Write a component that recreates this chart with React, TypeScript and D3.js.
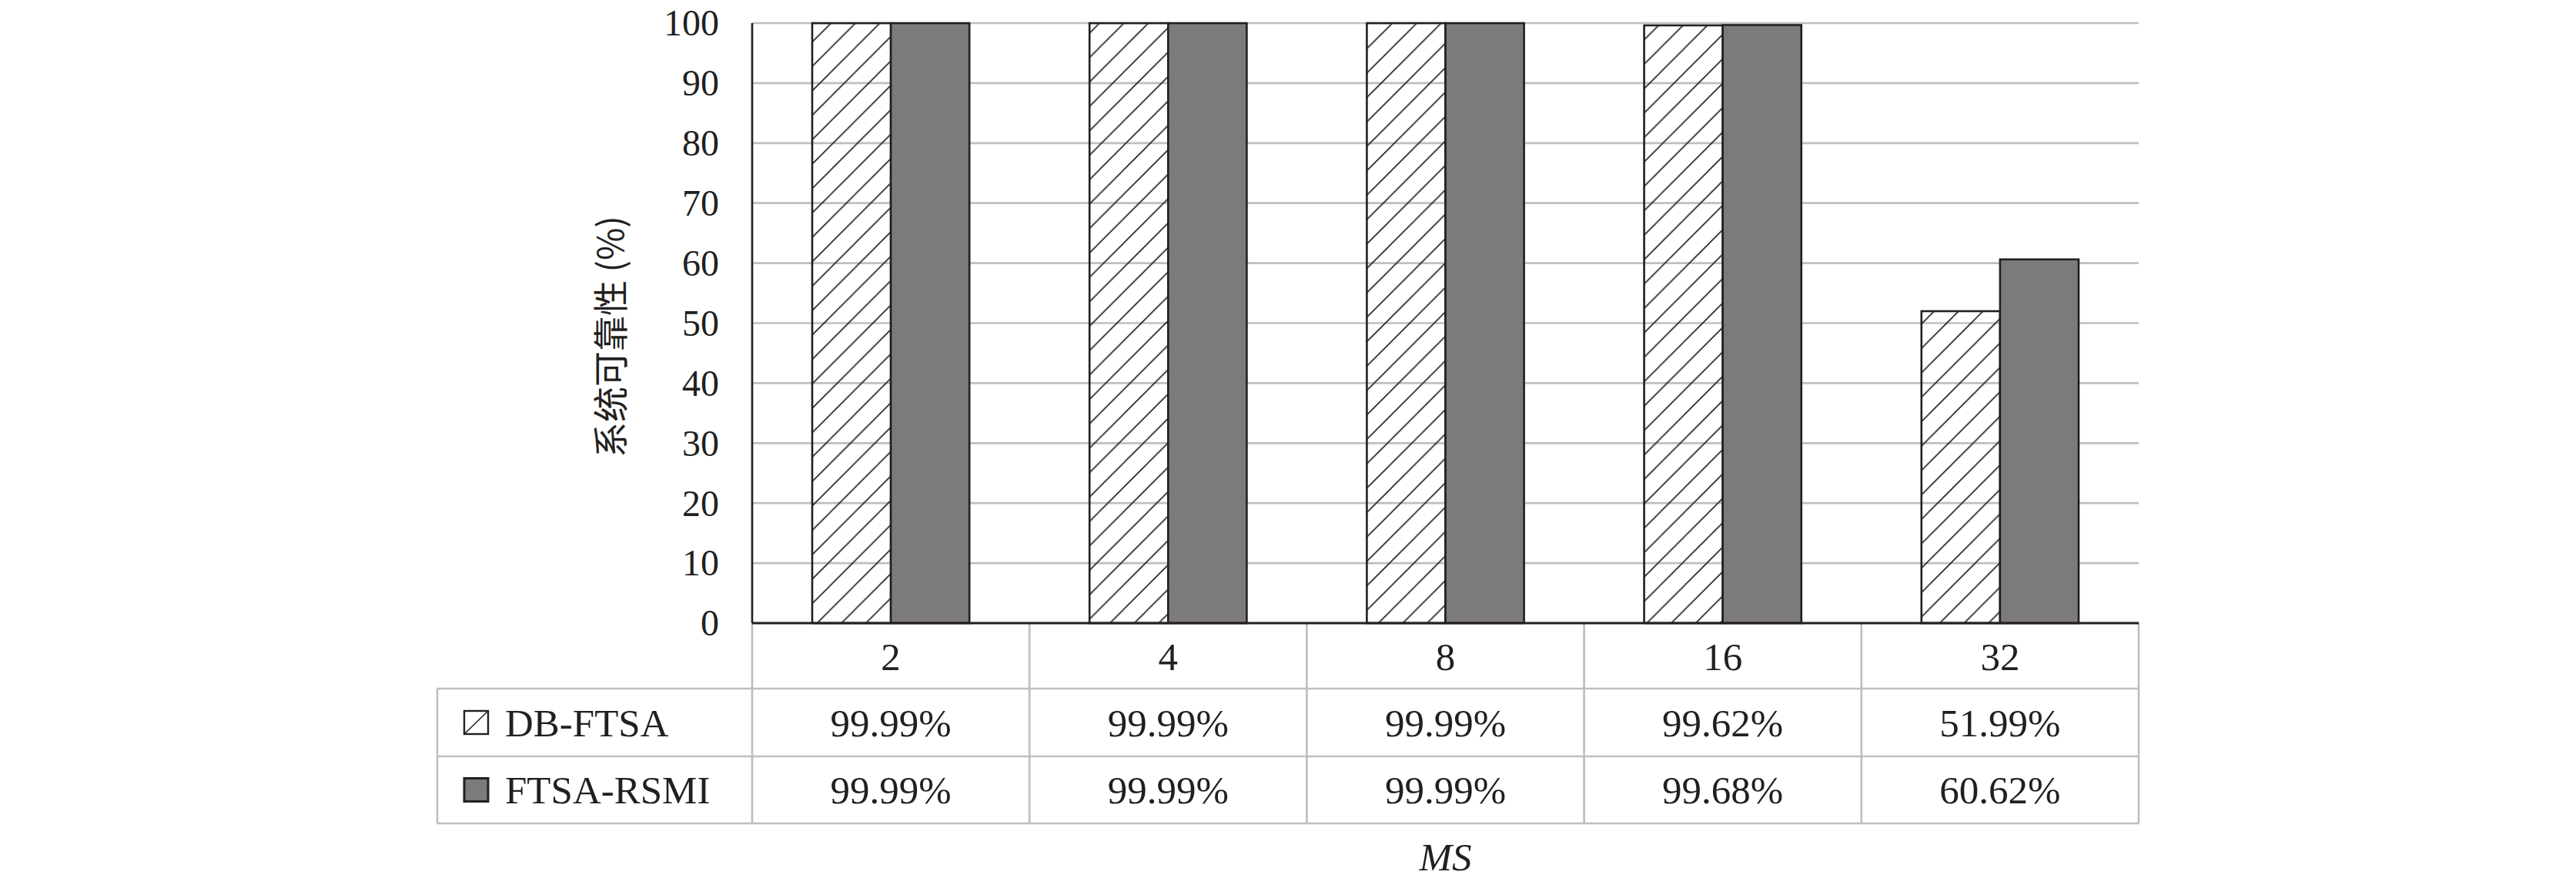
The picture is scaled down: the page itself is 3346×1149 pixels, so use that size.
import React, { useEffect } from 'react';
import * as d3 from 'd3';

const categories = ['2', '4', '8', '16', '32'];
const seriesNames = ['DB-FTSA', 'FTSA-RSMI'];
const dbFtsa = [99.99, 99.99, 99.99, 99.62, 51.99];
const ftsaRsmi = [99.99, 99.99, 99.99, 99.68, 60.62];
const yTicks = [0, 10, 20, 30, 40, 50, 60, 70, 80, 90, 100];
const yLabel = '系统可靠性 (%)';
const xLabel = 'MS';

const W = 3346;
const H = 1149;
const plot = { left: 977, right: 2778, top: 30, bottom: 809 };
const rowH = [809, 894, 982, 1069];
const tableLeft = 568;
const ink = '#231f20';
const grid = '#bfbfbf';
const solid = '#7c7a7b';
const serif = '"Liberation Serif", "Times New Roman", serif';

export default function App() {
  useEffect(() => {
    document.body.style.margin = '0';
  }, []);

  const x = d3.scaleBand<string>().domain(categories).range([plot.left, plot.right]);
  const inner = d3.scaleBand<string>().domain(seriesNames).range([78, x.bandwidth() - 78]);
  const y = d3.scaleLinear().domain([0, 100]).range([plot.bottom, plot.top]);

  const series = [dbFtsa, ftsaRsmi];
  const fmt = (v: number) => v.toFixed(2) + '%';

  return (
    <svg width={W} height={H} style={{ display: 'block', background: '#fff' }}>
      <defs>
        <pattern id="hatch" patternUnits="userSpaceOnUse" width={31.7} height={31.7}>
          <path
            d="M-2,2 l4,-4 M0,31.7 l31.7,-31.7 M29.7,33.7 l4,-4"
            stroke={ink}
            strokeWidth={1.6}
          />
        </pattern>
      </defs>

      {/* gridlines */}
      {yTicks.filter((t) => t > 0).map((t) => (
        <line key={t} x1={plot.left} x2={plot.right} y1={y(t)} y2={y(t)} stroke={grid} strokeWidth={2.7} />
      ))}

      {/* y tick labels */}
      {yTicks.map((t) => (
        <text
          key={t}
          x={934}
          y={y(t)}
          dy="0.34em"
          textAnchor="end"
          fontFamily={serif}
          fontSize={48}
          fill={ink}
        >
          {t}
        </text>
      ))}

      {/* y label */}
      <text
        transform="translate(810,437) rotate(-90)"
        textAnchor="middle"
        fontFamily={'"Noto Sans CJK SC", ' + serif}
        fontSize={46}
        fill={ink}
      >
        {yLabel}
      </text>

      {/* bars */}
      {categories.map((c, i) =>
        seriesNames.map((s, j) => {
          const v = series[j][i];
          const bx = (x(c) as number) + (inner(s) as number);
          return (
            <rect
              key={c + s}
              x={bx}
              y={y(v)}
              width={inner.bandwidth()}
              height={y(0) - y(v)}
              fill={j === 0 ? 'url(#hatch)' : solid}
              stroke={ink}
              strokeWidth={2.6}
            />
          );
        })
      )}

      {/* left axis line */}
      <line x1={plot.left} x2={plot.left} y1={plot.top} y2={plot.bottom} stroke={ink} strokeWidth={2.6} />

      {/* data table */}
      <g stroke={grid} strokeWidth={2.7}>
        <line x1={tableLeft} x2={plot.right} y1={rowH[1]} y2={rowH[1]} />
        <line x1={tableLeft} x2={plot.right} y1={rowH[2]} y2={rowH[2]} />
        <line x1={tableLeft} x2={plot.right} y1={rowH[3]} y2={rowH[3]} />
        <line x1={tableLeft} x2={tableLeft} y1={rowH[1]} y2={rowH[3]} />
        {categories.map((c) => (
          <line key={c} x1={x(c)} x2={x(c)} y1={rowH[0]} y2={rowH[3]} />
        ))}
        <line x1={plot.right} x2={plot.right} y1={rowH[0]} y2={rowH[3]} />
      </g>

      {/* x axis line */}
      <line x1={plot.left} x2={plot.right} y1={plot.bottom} y2={plot.bottom} stroke={ink} strokeWidth={3.2} />

      {categories.map((c) => (
        <text
          key={c}
          x={(x(c) as number) + x.bandwidth() / 2}
          y={(rowH[0] + rowH[1]) / 2}
          dy="0.36em"
          textAnchor="middle"
          fontFamily={serif}
          fontSize={51}
          fill={ink}
        >
          {c}
        </text>
      ))}

      {seriesNames.map((s, j) => {
        const cy = (rowH[j + 1] + rowH[j + 2]) / 2;
        return (
          <g key={s}>
            {j === 0 ? (
              <g>
                <rect x={603} y={cy - 15} width={31} height={30} fill="#fff" stroke={ink} strokeWidth={2.4} />
                <line x1={604} y1={cy + 14} x2={633} y2={cy - 14} stroke={ink} strokeWidth={1.6} />
              </g>
            ) : (
              <rect x={603} y={cy - 15} width={31} height={30} fill={solid} stroke={ink} strokeWidth={3} />
            )}
            <text x={656} y={cy} dy="0.35em" fontFamily={serif} fontSize={51} fill={ink}>
              {s}
            </text>
            {categories.map((c, i) => (
              <text
                key={c}
                x={(x(c) as number) + x.bandwidth() / 2}
                y={cy}
                dy="0.35em"
                textAnchor="middle"
                fontFamily={serif}
                fontSize={51}
                fill={ink}
              >
                {fmt(series[j][i])}
              </text>
            ))}
          </g>
        );
      })}

      {/* x label */}
      <text
        x={(plot.left + plot.right) / 2}
        y={1130}
        textAnchor="middle"
        fontFamily={serif}
        fontStyle="italic"
        fontSize={51}
        fill={ink}
      >
        {xLabel}
      </text>
    </svg>
  );
}
